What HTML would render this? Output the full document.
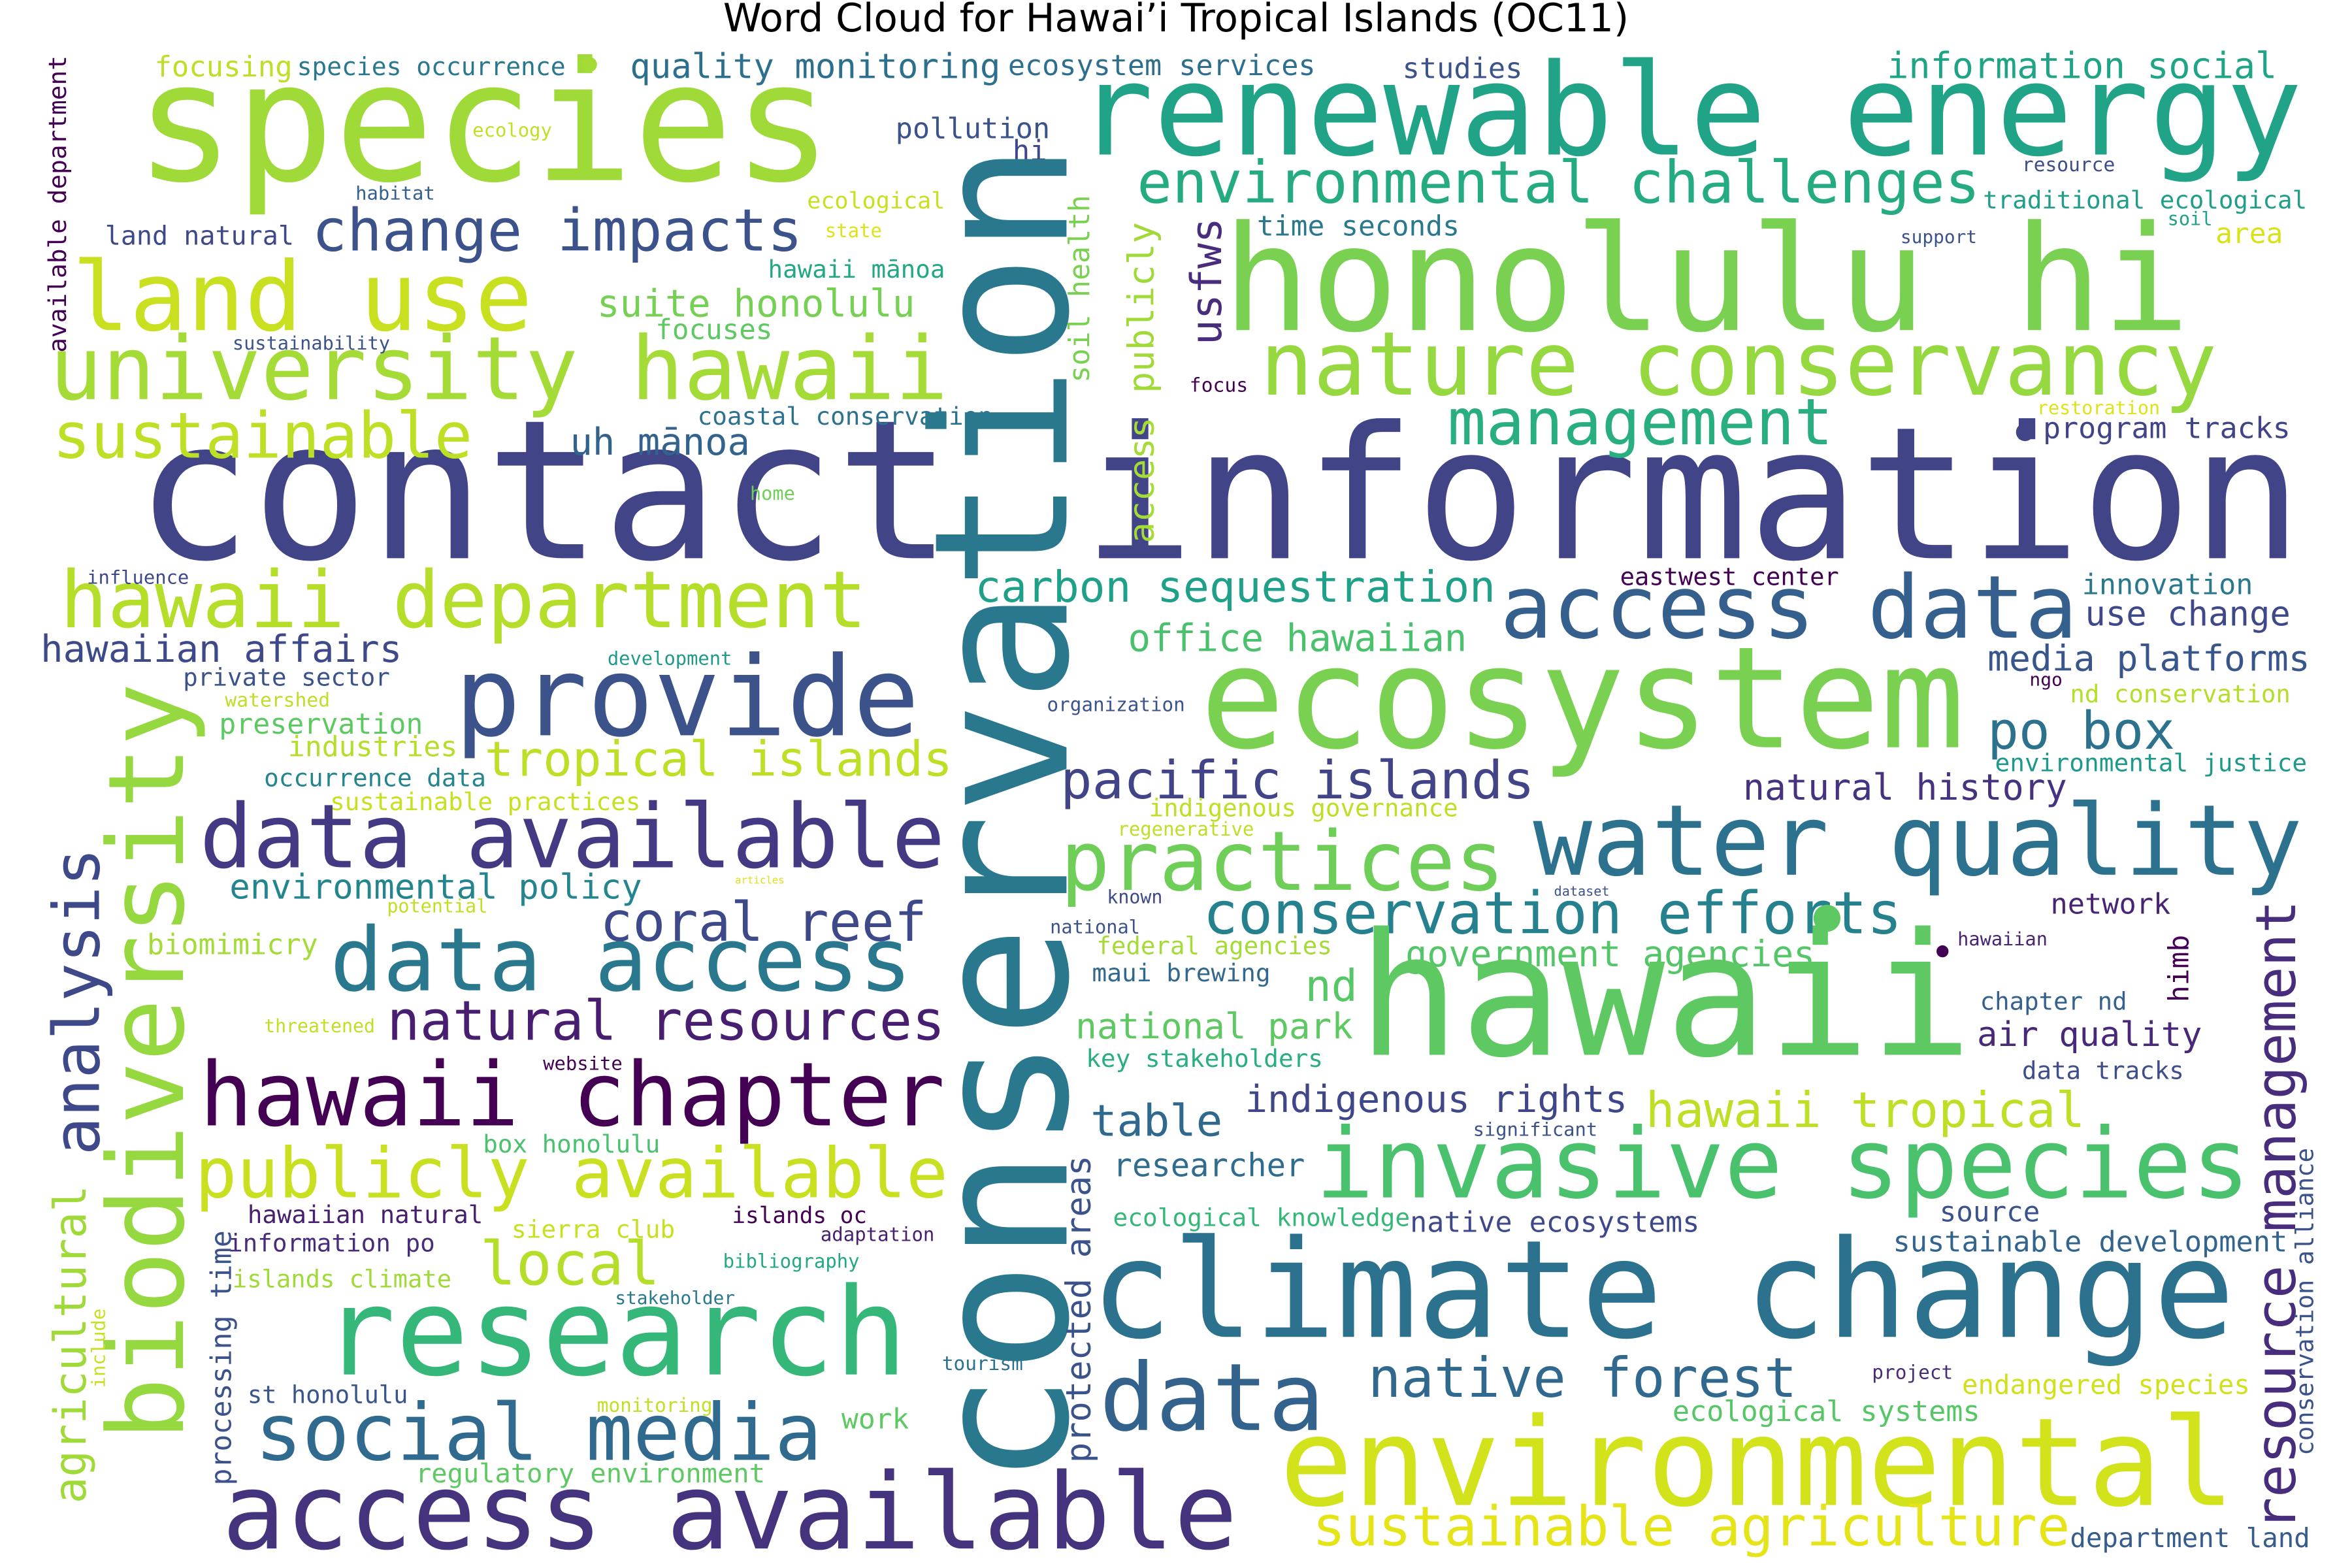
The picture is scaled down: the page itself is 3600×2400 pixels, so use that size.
<!DOCTYPE html>
<html><head><meta charset="utf-8"><style>
html,body{margin:0;padding:0;background:#fff;}
svg{display:block;}
</style></head><body>
<svg id="chart" width="3600" height="2400" viewBox="0 0 1568 1045" preserveAspectRatio="none" xmlns="http://www.w3.org/2000/svg">
<rect x="0" y="0" width="1568" height="1045" fill="#ffffff"/>
<text x="784" y="21" text-anchor="middle" font-family="'DejaVu Sans','Liberation Sans',sans-serif" font-size="26" fill="#000">Word Cloud for Hawai’i Tropical Islands (OC11)</text>
<g id="words"></g>
</svg>
<script>
// horizontal words: text, left x, right x, baseline y, colour
const hWords = ["species","renewable energy","honolulu hi","contact","information","environmental challenges","land use","change impacts","university hawaii","nature conservancy","management","sustainable","suite honolulu","uh mānoa","hawaii department","access data","carbon sequestration","office hawaiian","provide","ecosystem","hawaiian affairs","tropical islands","data available","pacific islands","po box","practices","water quality","natural history","environmental policy","coral reef","conservation efforts","data access","government agencies","natural resources","hawaii","national park","nd","air quality","hawaii chapter","table","indigenous rights","hawaii tropical","publicly available","invasive species","researcher","local","climate change","research","data","native forest","social media","environmental","access available","sustainable agriculture","ecological systems","sustainable development","endangered species","department land","native ecosystems","ecological knowledge","source","chapter nd","data tracks","network","media platforms","use change","innovation","nd conservation","environmental justice","ngo","program tracks","restoration","information social","traditional ecological","area","soil","resource","support","studies","ecosystem services","quality monitoring","species occurrence","focusing","pollution","hi","time seconds","focus","ecological","state","hawaii mānoa","focuses","coastal conservation","land natural","habitat","ecology","sustainability","home","influence","private sector","development","watershed","preservation","industries","occurrence data","sustainable practices","articles","potential","biomimicry","threatened","website","box honolulu","hawaiian natural","sierra club","islands oc","adaptation","information po","islands climate","bibliography","stakeholder","st honolulu","monitoring","tourism","work","regulatory environment","indigenous governance","regenerative","eastwest center","organization","dataset","known","national","federal agencies","maui brewing","key stakeholders","significant","hawaiian","project"];
const hX0 = [90,718,815,90,722,758,48,208,33,840,965,35,398,380,40,1000,650,752,303,800,27,323,133,707,1325,707,1022,1162,153,400,802,220,937,258,905,717,870,1318,133,727,830,1097,130,877,742,320,727,215,733,912,170,853,148,875,1115,1262,1308,1380,940,742,1293,1320,1348,1367,1325,1390,1388,1380,1330,1353,1362,1358,1258,1322,1477,1445,1348,1267,935,672,420,198,103,597,675,838,793,538,550,512,437,465,70,237,315,155,500,58,122,405,150,146,192,176,220,490,258,98,176,362,322,165,341,488,547,152,155,482,410,165,398,628,561,277,766,745,1080,698,1036,738,700,731,728,724,982,1305,1248];
const hX1 = [555,1535,1460,635,1535,1320,355,535,632,1478,1222,315,610,500,578,1385,997,978,613,1310,268,635,630,1023,1450,1003,1535,1378,428,618,1268,608,1210,630,1315,902,905,1468,630,815,1085,1390,632,1500,870,440,1490,605,883,1198,548,1490,825,1380,1320,1525,1500,1540,1133,940,1360,1418,1456,1447,1540,1527,1502,1527,1538,1375,1527,1440,1518,1538,1522,1475,1410,1318,1015,877,667,377,195,700,698,973,832,630,588,630,515,662,196,290,368,260,530,126,260,488,220,282,305,324,427,523,325,212,250,415,440,322,450,578,623,290,301,573,490,272,475,682,606,510,972,836,1226,790,1073,775,760,888,847,882,1065,1365,1302];
const hY = [120,103,220,372,372,135,220,167,266,263,296,305,211,303,418,425,401,434,490,498,441,517,578,532,499,593,583,533,599,627,622,660,644,693,703,692,667,697,750,757,741,751,798,798,784,856,891,916,953,931,973,1003,1032,1030,947,834,929,1031,821,817,814,673,719,609,447,417,396,468,514,457,292,276,52,139,162,150,114,162,52,50,52,50,51,92,107,157,261,139,158,185,226,283,163,133,91,233,333,389,457,443,471,489,504,524,540,589,608,636,688,713,768,815,825,815,827,834,858,845,869,935,941,913,952,988,544,557,390,474,597,602,622,636,654,711,757,630,919];
const hColor = ["#a0da39","#20a386","#7ad151","#414487","#414487","#25ab82","#c8e020","#3b528b","#a5db36","#95d840","#29af7f","#bddf26","#75d054","#33638d","#b5de2b","#355f8d","#1fa088","#4ac16d","#3b528b","#7ad151","#3e4989","#bddf26","#443983","#414487","#2c728e","#6ece58","#2c728e","#46327e","#25858e","#3e4989","#26818e","#2a788e","#54c568","#481f70","#5ec962","#5ec962","#56c667","#482878","#440154","#30698e","#3f4788","#bddf26","#c8e020","#4ac16d","#2f6c8e","#b5de2b","#2c728e","#35b779","#33638d","#31688e","#306a8e","#d2e21b","#46337e","#e5e419","#56c667","#32648e","#d0e11c","#365c8d","#3f4889","#35b779","#3b528b","#34618d","#3d4e8a","#482475","#39568c","#3f4889","#2a788e","#b5de2b","#1f9a8a","#440154","#414487","#dde318","#20a486","#1f9e89","#d8e219","#1fa187","#3e4c8a","#3b528b","#3b528b","#2e6e8e","#2d708e","#2a788e","#bddf26","#3b528b","#3f4788","#2a788e","#440154","#c8e020","#dde318","#22a884","#5ec962","#2c728e","#3e4989","#35608d","#c2df23","#3b528b","#6ece58","#3f4788","#3b528b","#1f9a8a","#bddf26","#5ec962","#b5de2b","#25858e","#c8e020","#dde318","#c2df23","#a5db36","#c2df23","#440154","#4ac16d","#481f70","#c8e020","#440154","#481f70","#472d7b","#a0da39","#22a884","#2a788e","#39568c","#c2df23","#2c728e","#5ec962","#5ec962","#bddf26","#bddf26","#440154","#3b528b","#3b528b","#3e4989","#3b528b","#a5db36","#31688e","#29af7f","#3b528b","#482475","#472c7a"];
// vertical words (read bottom-to-top): text, baseline x, bottom y, top y, colour
const vWords = ["conservation","biodiversity","analysis","agricultural","processing time","include","available department","usfws","soil health","publicly","access","protected areas","himb","resource management","conservation alliance"];
const vX = [711,122,66,57,154,70,44,814,726,769,769,727,1459,1530,1542];
const vY0 = [990,960,770,1002,990,925,235,230,255,262,362,975,668,1020,970];
const vY1 = [95,455,565,790,820,872,37,145,130,148,278,770,623,600,765];
const vColor = ["#2a788e","#95d840","#3e4989","#a0da39","#3b528b","#c8e020","#440154","#472d7b","#7ad151","#a0da39","#a5db36","#3b528b","#440154","#472d7b","#3b528b"];
// dot glyphs
const dotX = [393,1350,1218,1295];
const dotY = [43,288,612,634];
const dotR = [5,6,9,4];
const dotColor = ["#a5db36","#414487","#5ec962","#440154"];

const NS = "http://www.w3.org/2000/svg";
const g = document.getElementById('words');
const FONT = "'DejaVu Sans Mono','Liberation Mono',monospace";
function slug(s){return s.replace(/[^a-z0-9]+/gi,'-').toLowerCase();}

for (let i = 0; i < hWords.length; i++) {
  const w = hWords[i];
  const len = hX1[i] - hX0[i];
  const fs = len / (w.length * 0.602);
  const t = document.createElementNS(NS, 'text');
  t.setAttribute('x', hX0[i]);
  t.setAttribute('y', hY[i]);
  t.setAttribute('font-size', fs.toFixed(2));
  t.setAttribute('font-family', FONT);
  t.setAttribute('fill', hColor[i]);
  t.setAttribute('textLength', len);
  t.setAttribute('lengthAdjust', 'spacingAndGlyphs');
  t.textContent = w;
  
  
  g.appendChild(t);
}
for (let i = 0; i < vWords.length; i++) {
  const w = vWords[i];
  const len = vY0[i] - vY1[i];
  const fs = len / (w.length * 0.602);
  const t = document.createElementNS(NS, 'text');
  t.setAttribute('x', 0);
  t.setAttribute('y', 0);
  t.setAttribute('transform', 'translate(' + vX[i] + ',' + vY0[i] + ') rotate(-90)');
  t.setAttribute('font-size', fs.toFixed(2));
  t.setAttribute('font-family', FONT);
  t.setAttribute('fill', vColor[i]);
  t.setAttribute('textLength', len);
  t.setAttribute('lengthAdjust', 'spacingAndGlyphs');
  t.textContent = w;
  
  
  g.appendChild(t);
}
for (let i = 0; i < dotX.length; i++) {
  const c = document.createElementNS(NS, 'circle');
  c.setAttribute('cx', dotX[i]);
  c.setAttribute('cy', dotY[i]);
  c.setAttribute('r', dotR[i]);
  c.setAttribute('fill', dotColor[i]);
  
  
  g.appendChild(c);
}
</script>
</body></html>
